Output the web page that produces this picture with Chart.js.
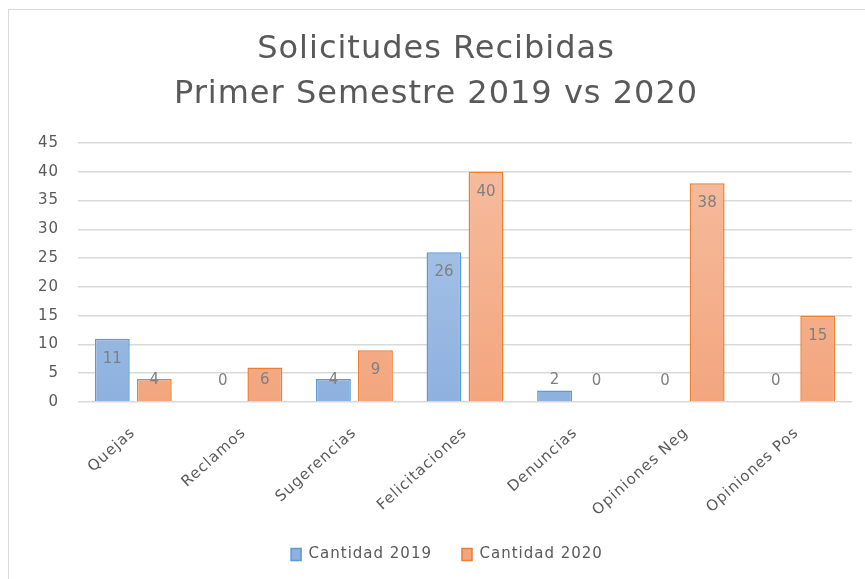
<!DOCTYPE html>
<html>
<head>
<meta charset="utf-8">
<script src="https://cdn.jsdelivr.net/npm/chart.js@4/dist/chart.umd.min.js"></script>
<style>
  html, body { margin: 0; padding: 0; background: #fff; }
  #wrap { position: relative; width: 865px; height: 579px; overflow: hidden; }
  #frame { position: absolute; left: 8px; top: 9px; width: 900px; height: 600px; border: 1px solid #d9d9d9; }
  canvas { position: absolute; left: 0; top: 0; }
</style>
</head>
<body>
<div id="wrap">
  <div id="frame"></div>
  <canvas id="chart" width="865" height="579"></canvas>
</div>
<script>
const categories = ['Quejas', 'Reclamos', 'Sugerencias', 'Felicitaciones', 'Denuncias', 'Opiniones Neg', 'Opiniones Pos']
const cantidad2019 = [11, 0, 4, 26, 2, 0, 0]
const cantidad2020 = [4, 6, 9, 40, 0, 38, 15]
const yTicks = [0, 5, 10, 15, 20, 25, 30, 35, 40, 45]
const titleLines = ['Solicitudes Recibidas', 'Primer Semestre 2019 vs 2020']

const FONT = "'DejaVu Sans', sans-serif"
const GREY = '#595959'

function gradient(ctx, top, bottom) {
  const area = ctx.chart.chartArea
  if (!area) return bottom
  const g = ctx.chart.ctx.createLinearGradient(0, area.top, 0, area.bottom)
  g.addColorStop(0, top)
  g.addColorStop(1, bottom)
  return g
}

// the original text is a bit wider than DejaVu, so space the letters out a little
const spacing = {
  id: 'spacing',
  beforeUpdate(chart) { chart.ctx.letterSpacing = '1px' },
  beforeDraw(chart) { chart.ctx.letterSpacing = '1px' },
  afterLayout(chart) {
    // legend sits a little right of centre in the original
    chart.legend.left += 11
    chart.legend.right += 11
  }
}

// labels inside the top of the bars, clamped near the baseline
const barLabels = {
  id: 'barLabels',
  afterDatasetsDraw(chart) {
    const c = chart.ctx
    c.save()
    c.letterSpacing = '0px'
    c.font = "15px " + FONT
    c.fillStyle = '#7f7f7f'
    c.textAlign = 'center'
    c.textBaseline = 'middle'
    chart.data.datasets.forEach((ds, i) => {
      chart.getDatasetMeta(i).data.forEach((bar, j) => {
        const y = Math.min(bar.y + 20, bar.base - 21)
        c.fillText(String(ds.data[j]), bar.x, y)
      })
    })
    c.restore()
  }
}

new Chart(document.getElementById('chart'), {
  type: 'bar',
  data: {
    labels: categories,
    datasets: [
      {
        label: 'Cantidad 2019',
        data: cantidad2019,
        backgroundColor: ctx => gradient(ctx, '#b0c9ea', '#8eb1df'),
        borderColor: '#5b9bd5',
        borderWidth: 1.5,
        categoryPercentage: 0.76,
        barPercentage: 0.83
      },
      {
        label: 'Cantidad 2020',
        data: cantidad2020,
        backgroundColor: ctx => gradient(ctx, '#f6bda0', '#f3a67e'),
        borderColor: '#ed7d31',
        borderWidth: 1.5,
        categoryPercentage: 0.76,
        barPercentage: 0.83
      }
    ]
  },
  options: {
    responsive: false,
    animation: false,
    layout: { padding: { left: 20, right: 13, top: 10, bottom: 7 } },
    scales: {
      x: {
        grid: { display: false },
        border: { display: false },
        afterFit: axis => { axis.height = 115 },
        ticks: { color: GREY, padding: 14, font: { size: 15, family: FONT }, minRotation: 42, maxRotation: 42 }
      },
      y: {
        min: 0,
        max: 45,
        afterBuildTicks: axis => { axis.ticks = yTicks.map(v => ({ value: v })) },
        afterFit: axis => { axis.width = 58 },
        grid: { color: '#d9d9d9', lineWidth: 1.5, drawTicks: false },
        border: { display: false },
        ticks: { color: GREY, padding: 19, font: { size: 15, family: FONT } }
      }
    },
    plugins: {
      title: {
        display: true,
        text: titleLines,
        color: GREY,
        font: { size: 32, family: FONT, weight: 'normal', lineHeight: 1.42 },
        padding: { top: 17, bottom: 25 }
      },
      legend: {
        position: 'bottom',
        labels: {
          color: GREY,
          font: { size: 15, family: FONT },
          boxWidth: 10,
          boxHeight: 12,
          padding: 30
        }
      },
      tooltip: { enabled: false }
    }
  },
  plugins: [spacing, barLabels]
})
</script>
</body>
</html>
